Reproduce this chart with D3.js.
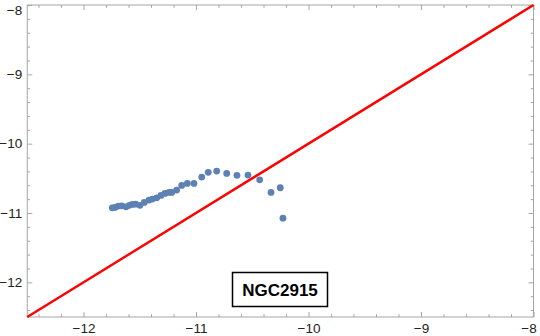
<!DOCTYPE html>
<html><head><meta charset="utf-8">
<script src="https://cdn.jsdelivr.net/npm/d3@7"></script>
<style>body{margin:0;background:#fff}svg{display:block}</style>
</head><body>
<svg id="c" width="540" height="336"></svg>
<script>
const xVals = [-11.744,-11.72,-11.691,-11.66,-11.622,-11.593,-11.566,-11.536,-11.498,-11.46,-11.418,-11.388,-11.349,-11.311,-11.276,-11.24,-11.216,-11.172,-11.127,-11.077,-11.018,-10.949,-10.891,-10.816,-10.727,-10.636,-10.538,-10.434,-10.333,-10.251,-10.227];
const yVals = [-10.925,-10.919,-10.90,-10.896,-10.911,-10.89,-10.876,-10.872,-10.89,-10.847,-10.814,-10.799,-10.781,-10.746,-10.717,-10.703,-10.703,-10.67,-10.602,-10.573,-10.573,-10.482,-10.414,-10.395,-10.429,-10.457,-10.453,-10.521,-10.703,-10.636,-11.074];
const lineX = [-12.5, -8];
const lineY = [-12.5, -8];
const xTicks = [-12, -11, -10, -9, -8];
const yTicks = [-12, -11, -10, -9, -8];
const label = "NGC2915";

const svg = d3.select("#c");
const L = 27.25, R = 533.5, T = 5, B = 317;
const x = d3.scaleLinear().domain([-12.5, -8]).range([L, R]);
const y = d3.scaleLinear().domain([-12.5, -8]).range([B, T]);
const fmt = d => d3.format("")(d).replace("-", "\u2212");
const minorX = d3.range(-12.4, -8.0001, 0.2).map(v => +v.toFixed(1)).filter(v => !xTicks.includes(v));
const minorY = minorX;
const frameCol = "#a6a6a6";

const g = svg.append("g");
g.append("rect").attr("x", L).attr("y", T).attr("width", R - L).attr("height", B - T)
  .attr("fill", "none").attr("stroke", frameCol).attr("stroke-width", 1);

function axisTicks(axisGen, transform, major, minor, labels) {
  const ga = g.append("g").attr("transform", transform)
    .call(axisGen.tickValues(major).tickSize(-5).tickFormat(labels ? fmt : ""));
  const gm = g.append("g").attr("transform", transform)
    .call(axisGen.tickValues(minor).tickSize(-2.8).tickFormat(""));
  [ga, gm].forEach(s => {
    s.select(".domain").remove();
    s.selectAll("line").attr("stroke", frameCol);
    s.selectAll("text").attr("fill", "#222").attr("font-family", "Liberation Sans, Arial, sans-serif").attr("font-size", 13.5);
  });
  return ga;
}
const gb = axisTicks(d3.axisBottom(x), `translate(0,${B})`, xTicks, minorX, true);
gb.selectAll("text").attr("dy", "0.71em").attr("y", 6)
  .filter(d => d === -8).attr("dx", -5);
axisTicks(d3.axisTop(x), `translate(0,${T})`, xTicks, minorX, false);
const gl = axisTicks(d3.axisLeft(y), `translate(${L},0)`, yTicks, minorY, true);
gl.selectAll("text").attr("x", -5)
  .filter(d => d === -8).attr("dy", "0.7em");
axisTicks(d3.axisRight(y), `translate(${R},0)`, yTicks, minorY, false);

const pts = xVals.map((v, i) => [v, yVals[i]]);
svg.append("g").selectAll("circle").data(pts).join("circle")
  .attr("cx", d => x(d[0])).attr("cy", d => y(d[1])).attr("r", 3.4)
  .attr("fill", "#5e81b5");

svg.append("line")
  .attr("x1", x(lineX[0])).attr("y1", y(lineY[0]))
  .attr("x2", x(lineX[1])).attr("y2", y(lineY[1]))
  .attr("stroke", "#ff0000").attr("stroke-width", 2.4);

const lb = svg.append("g").attr("transform", "translate(280,289.5)");
lb.append("rect").attr("x", -47.5).attr("y", -17).attr("width", 95).attr("height", 34)
  .attr("fill", "#fff").attr("stroke", "#000").attr("stroke-width", 1.5);
lb.append("text").attr("text-anchor", "middle").attr("dy", "0.36em")
  .attr("font-family", "Liberation Sans, Arial, sans-serif").attr("font-weight", "bold")
  .attr("font-size", 17).attr("fill", "#000").text(label);
</script>
</body></html>
